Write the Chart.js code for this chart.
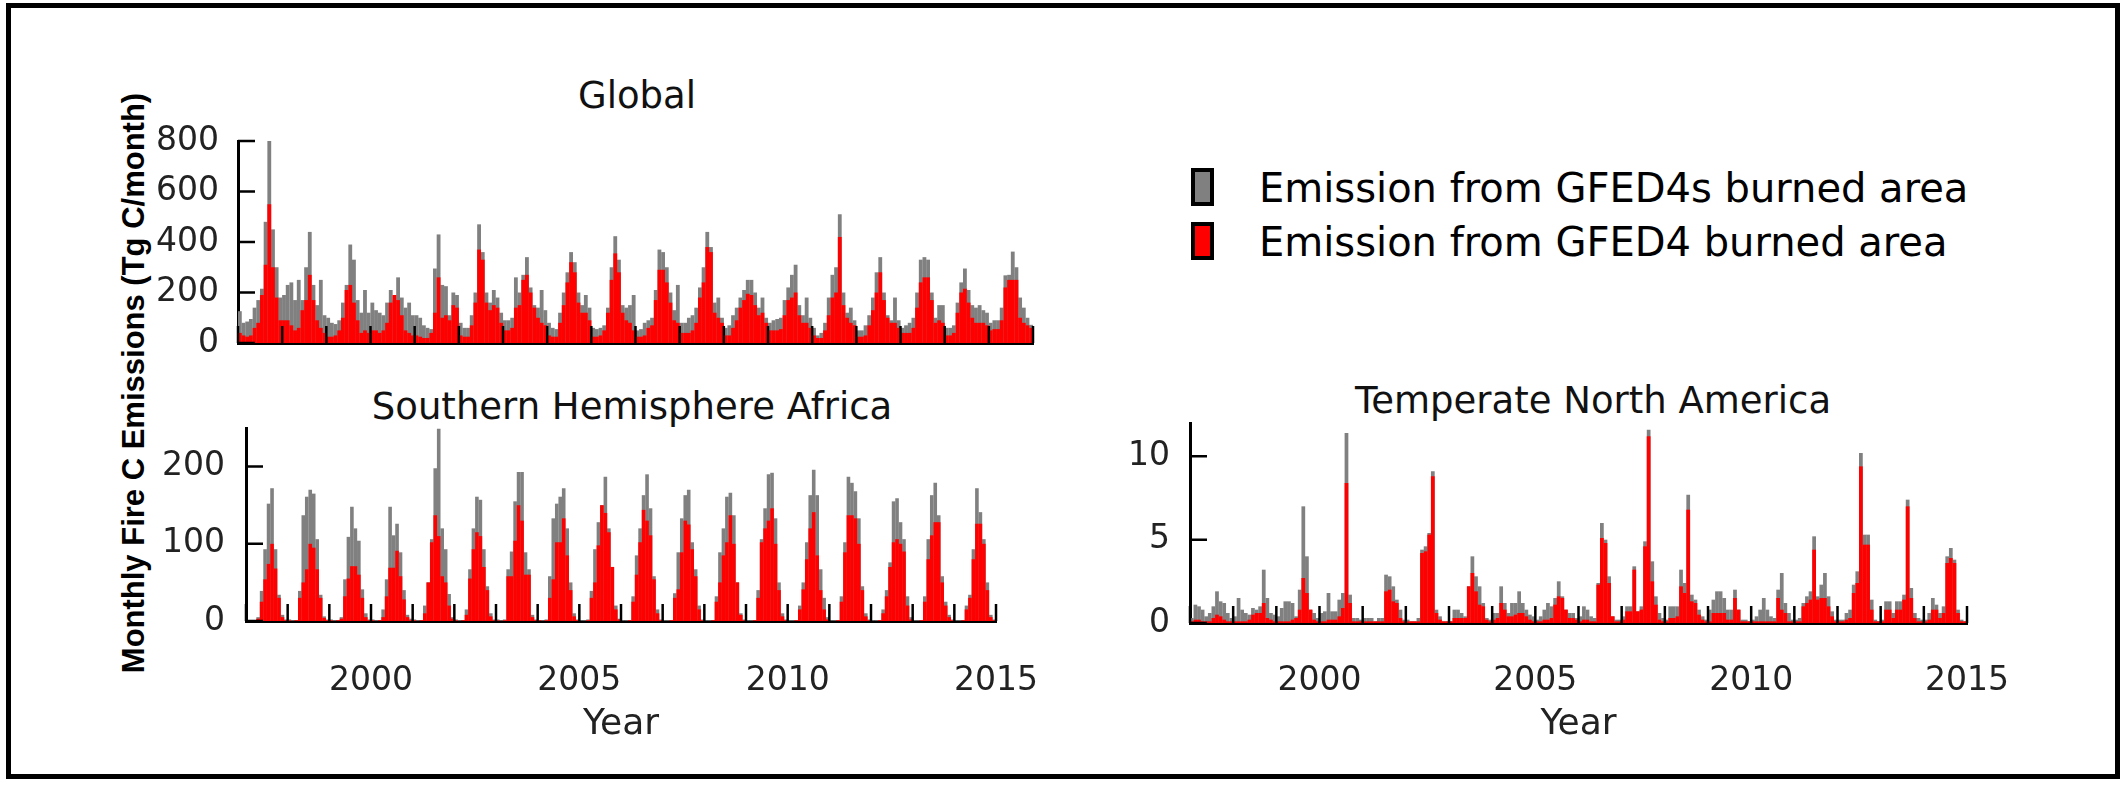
<!DOCTYPE html>
<html>
<head>
<meta charset="utf-8">
<script src="https://cdn.jsdelivr.net/npm/chart.js@4.4.0/dist/chart.umd.min.js"></script>
<style>
  body { margin: 0; background: #fff; }
  #page { position: relative; width: 2126px; height: 785px; overflow: hidden; background: #fff; font-family: "DejaVu Sans", sans-serif; }
  #frame { position: absolute; left: 6px; top: 3px; width: 2104px; height: 766px; border: 5px solid #000; }
  .panel { position: absolute; }
  .txt { position: absolute; white-space: nowrap; color: #111; transform: translate(-50%, -50%); }
  .title { font-size: 37px; }
  #ytitle { position: absolute; left: 134px; top: 383px; transform: translate(-50%, -50%) rotate(-90deg);
            font-family: "Liberation Sans", Arial, sans-serif; font-weight: bold; font-size: 31px; color: #000; white-space: nowrap; }
  .key { position: absolute; left: 1191px; width: 15px; height: 30px; border: 4px solid #000; }
  .keytxt { position: absolute; left: 1259px; font-size: 40px; color: #000; white-space: nowrap; transform: translateY(-50%); }
</style>
</head>
<body>
<div id="page">
  <div id="frame"></div>
  <div id="ytitle">Monthly Fire C Emissions (Tg C/month)</div>

  <div class="txt title" style="left:637px; top:95px;">Global</div>
  <div class="txt title" style="left:632px; top:406px;">Southern Hemisphere Africa</div>
  <div class="txt title" style="left:1593px; top:400px;">Temperate North America</div>

  <div class="key" style="top:168px; background:#808080;"></div>
  <div class="keytxt" style="top:188px;">Emission from GFED4s burned area</div>
  <div class="key" style="top:222px; background:#ff0000;"></div>
  <div class="keytxt" style="top:242px;">Emission from GFED4 burned area</div>

  <canvas id="globalChart" class="panel" style="left:90px; top:105px;" width="1003" height="278"></canvas>
  <canvas id="shaChart" class="panel" style="left:90px; top:392px;" width="981" height="368"></canvas>
  <canvas id="tnaChart" class="panel" style="left:1080px; top:390px;" width="960" height="370"></canvas>
</div>

<script>
// monthly values, Jan 1997 .. Dec 2014 (one row per year)
const years = [1997, 1998, 1999, 2000, 2001, 2002, 2003, 2004, 2005, 2006, 2007, 2008, 2009, 2010, 2011, 2012, 2013, 2014];
const tickYears = [1997, 1998, 1999, 2000, 2001, 2002, 2003, 2004, 2005, 2006, 2007, 2008, 2009, 2010, 2011, 2012, 2013, 2014, 2015];
const yearLabels = [2000, 2005, 2010, 2015];

const globalTicks = [0, 200, 400, 600, 800];
const shaTicks = [0, 100, 200];
const tnaTicks = [0, 5, 10];

const globalGFED4s = [
  126, 80, 85, 95, 140, 170, 215, 480, 800, 450, 300, 180,
  190, 230, 240, 170, 250, 170, 300, 440, 230, 150, 250, 110,
  100, 80, 75, 90, 160, 230, 390, 330, 170, 120, 210, 120,
  160, 130, 120, 110, 160, 210, 170, 260, 180, 140, 160, 110,
  110, 100, 70, 60, 55, 295, 430, 230, 225, 110, 200, 190,
  80, 60, 60, 110, 200, 470, 360, 200, 160, 210, 180, 120,
  90, 90, 100, 260, 200, 270, 340, 220, 150, 140, 210, 130,
  80, 60, 55, 120, 200, 280, 360, 320, 200, 150, 190, 140,
  60, 55, 60, 70, 140, 300, 423, 330, 150, 140, 150, 190,
  50, 55, 80, 90, 100, 210, 370, 360, 300, 200, 130, 230,
  80, 80, 100, 110, 140, 220, 300, 440, 380, 160, 180, 100,
  60, 70, 110, 140, 180, 210, 250, 250, 200, 140, 180, 100,
  80, 90, 95, 100, 170, 220, 270, 310, 150, 110, 180, 100,
  60, 30, 40, 80, 180, 270, 300, 510, 200, 120, 140, 90,
  50, 50, 70, 110, 180, 280, 340, 200, 110, 90, 180, 90,
  60, 70, 80, 100, 200, 330, 340, 330, 200, 100, 150, 150,
  60, 60, 70, 160, 240, 295, 210, 150, 140, 150, 130, 120,
  80, 90, 90, 140, 268, 270, 362, 300, 180, 140, 100, 72
];
const globalGFED4 = [
  40, 30, 25, 30, 60, 80, 190, 310, 550, 300, 180, 90,
  90, 90, 70, 50, 60, 130, 170, 270, 170, 90, 60, 40,
  25, 25, 30, 50, 100, 210, 230, 160, 90, 40, 50, 40,
  50, 50, 40, 50, 80, 160, 190, 170, 110, 50, 40, 30,
  30, 25, 20, 20, 40, 120, 260, 100, 110, 90, 150, 140,
  30, 25, 25, 70, 160, 370, 330, 160, 130, 150, 140, 80,
  50, 50, 60, 140, 150, 250, 270, 200, 140, 100, 80, 70,
  30, 25, 25, 80, 150, 240, 320, 280, 160, 120, 120, 90,
  25, 25, 30, 50, 120, 250, 355, 280, 120, 90, 80, 50,
  25, 25, 30, 60, 70, 170, 290, 290, 240, 160, 90, 80,
  40, 40, 40, 50, 80, 180, 240, 380, 360, 120, 100, 80,
  30, 30, 60, 90, 140, 170, 195, 190, 150, 110, 120, 80,
  50, 50, 50, 55, 110, 170, 180, 200, 110, 80, 80, 60,
  30, 20, 20, 50, 110, 180, 200, 420, 150, 100, 80, 70,
  25, 25, 30, 70, 130, 200, 280, 170, 100, 80, 80, 60,
  40, 40, 40, 60, 140, 240, 260, 260, 170, 80, 90, 80,
  30, 30, 40, 120, 200, 215, 160, 100, 80, 80, 80, 70,
  50, 55, 55, 90, 220, 250, 250, 250, 100, 80, 70, 60
];

const shaGFED4s = [
  1, 1, 1, 5, 39, 93, 152, 172, 93, 34, 8, 2,
  2, 1, 1, 39, 137, 161, 170, 165, 106, 34, 6, 2,
  2, 1, 1, 5, 54, 109, 148, 120, 104, 41, 10, 2,
  2, 1, 1, 15, 54, 148, 111, 126, 89, 40, 8, 3,
  2, 1, 1, 20, 50, 106, 198, 249, 120, 93, 35, 5,
  2, 1, 1, 15, 67, 120, 161, 157, 93, 45, 10, 2,
  2, 1, 2, 67, 90, 155, 193, 193, 89, 67, 8, 2,
  1, 1, 2, 58, 133, 152, 161, 172, 120, 50, 10, 2,
  1, 1, 2, 39, 93, 128, 150, 187, 120, 70, 20, 3,
  1, 1, 1, 32, 85, 120, 163, 190, 146, 58, 15, 2,
  1, 1, 1, 36, 89, 133, 163, 170, 102, 67, 20, 2,
  1, 1, 1, 32, 89, 120, 161, 166, 137, 50, 10, 2,
  1, 1, 1, 40, 106, 146, 190, 192, 133, 50, 10, 2,
  1, 1, 1, 20, 50, 102, 163, 196, 163, 67, 30, 5,
  1, 1, 1, 32, 102, 187, 179, 168, 133, 45, 10, 2,
  1, 1, 1, 15, 40, 76, 155, 159, 128, 106, 32, 5,
  1, 1, 1, 32, 106, 163, 179, 137, 58, 25, 8, 2,
  1, 1, 1, 20, 34, 93, 172, 141, 106, 50, 8, 2
];
const shaGFED4 = [
  0, 0, 1, 3, 25, 54, 74, 100, 68, 30, 5, 1,
  1, 0, 1, 30, 50, 67, 100, 95, 67, 30, 4, 1,
  1, 0, 1, 3, 32, 55, 71, 71, 60, 30, 5, 1,
  1, 0, 1, 5, 32, 69, 69, 91, 58, 28, 5, 1,
  1, 0, 1, 10, 50, 102, 137, 110, 58, 50, 20, 3,
  1, 0, 1, 8, 55, 93, 115, 110, 70, 40, 6, 1,
  1, 0, 1, 58, 58, 104, 150, 130, 60, 60, 5, 1,
  1, 0, 1, 30, 54, 102, 102, 133, 85, 40, 6, 1,
  0, 0, 1, 30, 50, 98, 150, 140, 115, 70, 15, 2,
  0, 0, 1, 25, 60, 102, 144, 130, 111, 54, 10, 1,
  0, 0, 1, 30, 41, 89, 130, 125, 93, 58, 15, 1,
  0, 0, 1, 25, 50, 85, 102, 137, 100, 50, 8, 1,
  0, 0, 1, 30, 102, 120, 130, 146, 100, 40, 6, 1,
  0, 0, 1, 15, 41, 80, 120, 141, 85, 40, 15, 2,
  0, 0, 1, 25, 89, 137, 137, 133, 100, 40, 6, 1,
  0, 0, 1, 10, 32, 70, 102, 106, 100, 90, 20, 2,
  0, 0, 1, 25, 80, 111, 128, 128, 50, 20, 5, 1,
  0, 0, 1, 15, 30, 80, 126, 126, 100, 40, 5, 1
];

const tnaGFED4s = [
  0.3, 1.1, 1.0, 0.8, 0.4, 0.6, 1.0, 1.9, 1.3, 1.2, 0.6, 0.3,
  0.4, 1.5, 0.8, 0.6, 0.5, 0.9, 0.8, 1.0, 3.2, 1.5, 0.6, 0.5,
  0.4, 0.9, 1.3, 1.3, 1.2, 0.4, 2.0, 7.0, 4.0, 0.8, 0.6, 0.3,
  0.6, 0.7, 1.8, 0.7, 0.7, 1.4, 1.8, 11.4, 1.7, 0.3, 0.3, 0.2,
  0.3, 0.3, 0.3, 0.1, 0.3, 0.3, 2.9, 2.8, 2.2, 1.4, 0.8, 0.2,
  0.2, 0.1, 0.1, 0.3, 4.4, 4.6, 5.4, 9.1, 0.8, 0.4, 0.1, 0.1,
  0.1, 0.8, 0.8, 0.6, 0.4, 2.2, 4.0, 2.8, 2.2, 1.2, 0.3, 0.2,
  0.6, 0.6, 2.2, 1.2, 0.6, 1.2, 1.2, 1.9, 1.2, 0.8, 0.5, 0.4,
  0.2, 0.4, 0.8, 1.2, 1.0, 1.5, 2.5, 1.6, 0.8, 0.6, 0.6, 0.3,
  0.4, 1.0, 0.8, 0.4, 0.3, 2.4, 6.0, 5.0, 2.8, 0.4, 0.2, 0.2,
  0.4, 1.0, 1.0, 3.4, 0.7, 1.0, 4.9, 11.6, 3.7, 1.6, 0.6, 0.3,
  0.2, 1.0, 1.0, 1.0, 3.2, 2.4, 7.7, 1.7, 1.4, 0.8, 0.4, 0.2,
  0.8, 1.4, 1.9, 1.9, 1.5, 0.8, 0.8, 2.0, 0.8, 0.2, 0.2, 0.1,
  0.2, 0.4, 0.8, 1.5, 0.8, 0.4, 0.3, 2.0, 3.0, 1.2, 0.6, 0.2,
  0.2, 0.3, 1.2, 1.6, 1.9, 5.2, 1.6, 2.3, 3.0, 1.6, 0.7, 0.2,
  0.2, 0.2, 0.6, 0.8, 2.3, 3.1, 10.2, 5.3, 5.3, 1.4, 0.2, 0.1,
  0.2, 1.3, 1.3, 0.6, 1.3, 1.3, 1.7, 7.4, 2.1, 0.6, 0.3, 0.2,
  0.2, 0.6, 1.5, 1.1, 0.6, 1.0, 4.0, 4.5, 3.8, 0.8, 0.2, 0.1
];
const tnaGFED4 = [
  0.1, 0.2, 0.2, 0.1, 0.1, 0.1, 0.3, 0.5, 0.4, 0.2, 0.1, 0.1,
  0.1, 0.1, 0.1, 0.1, 0.2, 0.5, 0.6, 0.6, 1.2, 0.3, 0.2, 0.1,
  0.1, 0.1, 0.1, 0.1, 0.2, 0.3, 0.8, 2.7, 1.8, 0.8, 0.2, 0.1,
  0.1, 0.1, 0.2, 0.2, 0.2, 0.4, 0.9, 8.4, 1.2, 0.1, 0.1, 0.1,
  0.1, 0.1, 0.1, 0.1, 0.1, 0.1, 1.9, 2.0, 1.3, 1.2, 0.3, 0.1,
  0.1, 0.1, 0.1, 0.1, 4.2, 4.3, 5.3, 8.8, 0.6, 0.2, 0.1, 0.1,
  0.1, 0.3, 0.3, 0.3, 0.3, 2.2, 3.0, 1.9, 1.1, 1.0, 0.2, 0.1,
  0.2, 0.3, 1.2, 0.8, 0.4, 0.4, 0.5, 0.6, 0.6, 0.4, 0.2, 0.1,
  0.1, 0.1, 0.2, 0.2, 0.3, 1.1, 1.6, 1.5, 0.8, 0.3, 0.3, 0.2,
  0.1, 0.2, 0.2, 0.1, 0.1, 2.3, 5.1, 4.8, 2.4, 0.4, 0.1, 0.1,
  0.2, 0.7, 0.7, 3.2, 0.7, 0.8, 4.6, 11.2, 2.5, 1.1, 0.2, 0.1,
  0.1, 0.3, 0.3, 0.4, 2.2, 1.8, 6.8, 1.3, 1.2, 0.5, 0.2, 0.1,
  0.1, 0.6, 0.6, 0.6, 0.6, 0.2, 0.2, 1.5, 0.8, 0.1, 0.1, 0.1,
  0.1, 0.1, 0.1, 0.1, 0.1, 0.1, 0.1, 1.5, 0.8, 0.6, 0.1, 0.1,
  0.1, 0.1, 1.0, 1.2, 1.4, 4.4, 1.4, 1.5, 1.5, 1.0, 0.4, 0.1,
  0.1, 0.1, 0.2, 0.3, 1.8, 2.4, 9.4, 4.7, 4.7, 0.8, 0.1, 0.1,
  0.1, 0.8, 0.8, 0.3, 0.8, 0.8, 1.4, 7.0, 1.5, 0.3, 0.1, 0.1,
  0.1, 0.2, 0.8, 0.8, 0.3, 0.6, 3.6, 3.9, 3.6, 0.6, 0.1, 0.1
];

// month i -> decimal year at the middle of the month
function toPoints(values) {
  return values.map((v, i) => ({ x: years[Math.floor(i / 12)] + (i % 12 + 0.5) / 12, y: v }));
}

// matplotlib style ticks pointing into the plot
const inwardTicks = {
  id: 'inwardTicks',
  afterDatasetsDraw(chart) {
    const { ctx, chartArea, scales: { x, y } } = chart;
    ctx.save();
    ctx.strokeStyle = '#000';
    ctx.lineWidth = 2.5;
    ctx.beginPath();
    x.ticks.forEach(t => {
      const px = x.getPixelForValue(t.value);
      ctx.moveTo(px, chartArea.bottom);
      ctx.lineTo(px, chartArea.bottom - 17);
    });
    y.ticks.forEach(t => {
      const py = y.getPixelForValue(t.value);
      ctx.moveTo(chartArea.left, py);
      ctx.lineTo(chartArea.left + 17, py);
    });
    ctx.stroke();
    ctx.restore();
  }
};

const tickFont = { family: 'DejaVu Sans', size: 33 };

function makePanel(id, gray, red, opts) {
  const ctx = document.getElementById(id).getContext('2d');
  return new Chart(ctx, {
    type: 'bar',
    data: {
      datasets: [{
        label: 'Emission from GFED4 burned area',
        data: toPoints(red),
        backgroundColor: '#ff0000',
        order: 1
      }, {
        label: 'Emission from GFED4s burned area',
        data: toPoints(gray),
        backgroundColor: '#808080',
        order: 2
      }]
    },
    options: {
      responsive: false,
      animation: false,
      events: [],
      layout: { padding: { top: opts.padTop, right: opts.padRight, left: 0, bottom: 0 } },
      datasets: {
        bar: { grouped: false, barPercentage: 1.04, categoryPercentage: 1, borderWidth: 0 }
      },
      plugins: { legend: { display: false }, tooltip: { enabled: false } },
      scales: {
        x: {
          type: 'linear',
          offset: false,
          min: 1997,
          max: 2015,
          grid: { display: false },
          border: { display: true, color: '#000', width: 3 },
          afterBuildTicks: s => { s.ticks = tickYears.map(v => ({ value: v })); },
          afterFit: s => { s.height = opts.xHeight; },
          ticks: {
            display: opts.showX,
            autoSkip: false,
            maxRotation: 0,
            padding: opts.xPad,
            color: '#222',
            font: tickFont,
            callback: v => yearLabels.includes(v) ? String(v) : ''
          },
          title: {
            display: opts.showX,
            text: 'Year',
            color: '#222',
            font: { family: 'DejaVu Sans', size: 36 },
            padding: { top: 0, bottom: 14 }
          }
        },
        y: {
          min: 0,
          max: opts.yMax,
          grid: { display: false },
          border: { display: true, color: '#000', width: 3 },
          afterBuildTicks: s => { s.ticks = opts.yTicks.map(v => ({ value: v })); },
          afterFit: s => { s.width = opts.yWidth; },
          ticks: { padding: opts.yPad, color: '#222', font: tickFont }
        }
      }
    },
    plugins: [inwardTicks]
  });
}

makePanel('globalChart', globalGFED4s, globalGFED4, {
  yMax: 800, yTicks: globalTicks, yWidth: 148, yPad: 11, padTop: 36, padRight: 60,
  xHeight: 40, showX: false, xPad: 0
});
makePanel('shaChart', shaGFED4s, shaGFED4, {
  yMax: 250, yTicks: shaTicks, yWidth: 156, yPad: 13, padTop: 36, padRight: 60,
  xHeight: 139, showX: true, xPad: 33
});
makePanel('tnaChart', tnaGFED4s, tnaGFED4, {
  yMax: 12, yTicks: tnaTicks, yWidth: 110, yPad: 12, padTop: 33, padRight: 61,
  xHeight: 137, showX: true, xPad: 31
});
</script>
</body>
</html>
